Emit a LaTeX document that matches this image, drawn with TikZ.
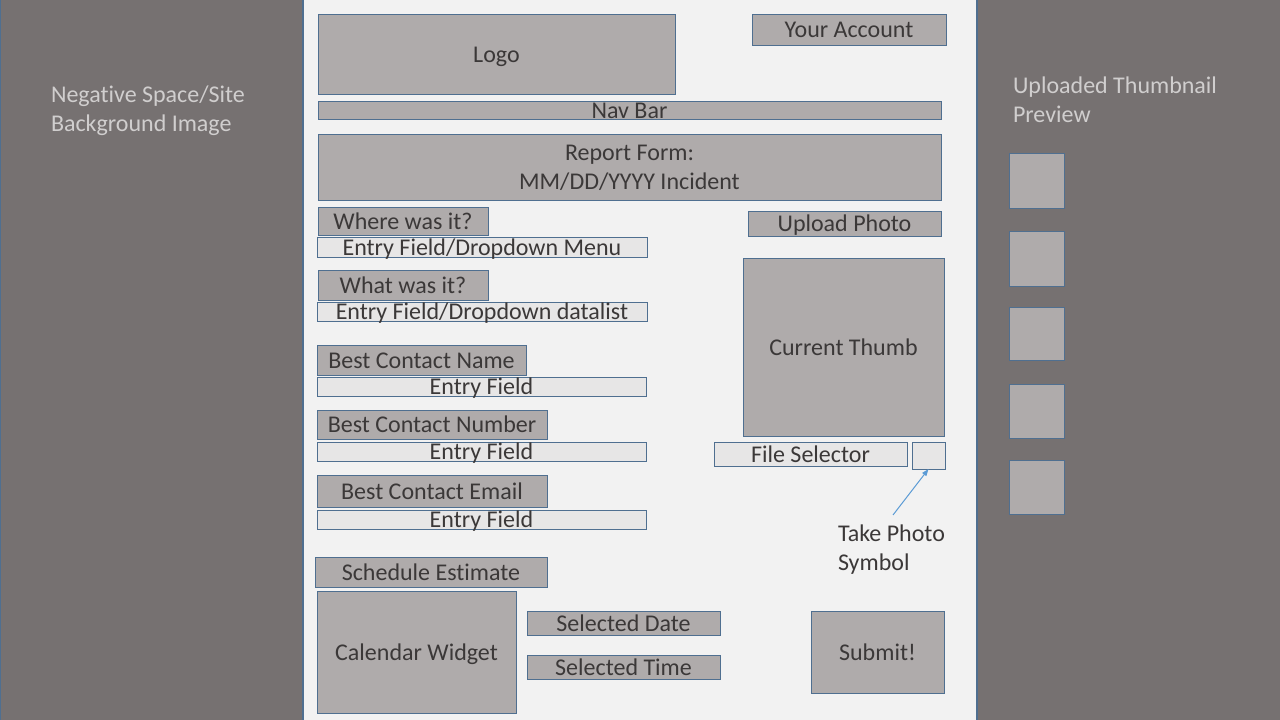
\documentclass[tikz,border=0pt]{standalone}
\usepackage{fontspec}
\setmainfont{Carlito}[Ligatures={NoCommon,NoRare}]
\usetikzlibrary{arrows.meta}
\definecolor{panel}{HTML}{767171}
\definecolor{pagebg}{HTML}{F2F2F2}
\definecolor{boxfill}{HTML}{AFABAB}
\definecolor{fieldfill}{HTML}{E7E6E6}
\definecolor{edge}{HTML}{4F6F90}
\definecolor{textdark}{HTML}{3B3838}
\definecolor{sidetext}{HTML}{D0CECE}
\definecolor{arrowblue}{HTML}{5B9BD5}
\newcommand{\mystrut}{\vrule width 0pt height 0.95em depth 0.27em\relax}
\newcommand{\ubox}[7]{%
  \node[#1, minimum width={#5-#3}, minimum height={#6-#4}] (#2) at ({(#3+#5)/2},{(#4+#6)/2}) {};
  \node[txt] (#2t) at (#2.center) {\mystrut #7};}
\begin{document}
\begin{tikzpicture}[x=1pt,y=-1pt,
  box/.style={draw=edge, fill=boxfill, line width=1pt, inner sep=0pt, outer sep=0pt},
  field/.style={draw=edge, fill=fieldfill, line width=1pt, inner sep=0pt, outer sep=0pt},
  panelbox/.style={draw=edge, fill=panel, line width=1.2pt},
  txt/.style={inner sep=0pt, outer sep=0pt, text=textdark, font=\fontsize{24}{29.3}\selectfont},
  side/.style={inner sep=0pt, outer sep=0pt, text=sidetext, align=left, font=\fontsize{24}{29.3}\selectfont},
  note/.style={inner sep=0pt, outer sep=0pt, text=textdark, align=left, font=\fontsize{24}{29.3}\selectfont},
  thumb/.style={draw=edge, fill=boxfill, line width=1pt, minimum size=55pt, inner sep=0pt},
  pointer/.style={draw=arrowblue, line width=1pt, -{Triangle[length=7pt,width=5pt]}}]
\useasboundingbox (0,0) rectangle (1280,720);
\clip (0,0) rectangle (1280,720);
% backgrounds
\fill[pagebg] (0,0) rectangle (1280,720);
\draw[panelbox] (0.6,-5) rectangle (303,725);
\draw[panelbox] (977,-5) rectangle (1290,725);
% side texts
\node[side, anchor=west] (neg) at (51,108.5) {\mystrut Negative Space/Site\\\mystrut Background Image};
\node[side, anchor=west] (upl) at (1013,99.5) {\mystrut Uploaded Thumbnail\\\mystrut Preview};
% thumbnails
\node[thumb] (th1) at (1036.5,180.5) {};
\node[thumb] (th2) at (1036.5,258.5) {};
\node[thumb, minimum height=53pt] (th3) at (1036.5,333.5) {};
\node[thumb, minimum height=54pt] (th4) at (1036.5,411) {};
\node[thumb, minimum height=54pt] (th5) at (1036.5,487) {};
% header
\ubox{box}{logo}{318}{14}{675}{94}{Logo}
\ubox{box}{acct}{752}{14}{946}{45}{Your Account}
\ubox{box}{nav}{318}{101}{941}{119}{Nav Bar}
\node[box, minimum width=623pt, minimum height=66pt] (report) at (629.5,167) {};
\node[txt, align=center] (reportt) at (report.center) {\mystrut Report Form:\\\mystrut MM/DD/YYYY Incident};
% form fields
\ubox{box}{where}{318}{207}{488}{235}{Where was it?}
\ubox{field}{wheref}{317}{237}{647}{257}{Entry Field/Dropdown Menu}
\ubox{box}{what}{318}{270}{488}{300}{What was it?}
\ubox{field}{whatf}{317}{302}{647}{321}{Entry Field/Dropdown datalist}
\ubox{box}{cname}{317}{345}{526}{375}{Best Contact Name}
\ubox{field}{cnamef}{317}{377}{646}{396}{Entry Field}
\ubox{box}{cnum}{317}{410}{547}{439}{Best Contact Number}
\ubox{field}{cnumf}{317}{442}{646}{461}{Entry Field}
\ubox{box}{cmail}{317}{475}{547}{507}{Best Contact Email}
\ubox{field}{cmailf}{317}{510}{646}{529}{Entry Field}
% scheduling
\ubox{box}{sched}{315}{557}{547}{587}{Schedule Estimate}
\ubox{box}{cal}{317}{591}{516}{713}{Calendar Widget}
\ubox{box}{sdate}{527}{611}{720}{635}{Selected Date}
\ubox{box}{stime}{527}{655}{720}{679}{Selected Time}
\ubox{box}{submit}{811}{611}{944}{693}{Submit!}
% photo
\ubox{box}{upload}{748}{211}{941}{236}{Upload Photo}
\ubox{box}{thumb}{743}{258}{944}{436}{Current Thumb}
\ubox{field}{filesel}{714}{442}{907}{466}{File Selector}
\node[field, minimum width=33pt, minimum height=27pt] (photo) at (928.5,455.5) {};
\node[note, anchor=west] (take) at (838,547.5) {\mystrut Take Photo\\\mystrut Symbol};
\coordinate (takept) at (893,515);
\draw[pointer] (takept) -- (photo.south);
\end{tikzpicture}
\end{document}
